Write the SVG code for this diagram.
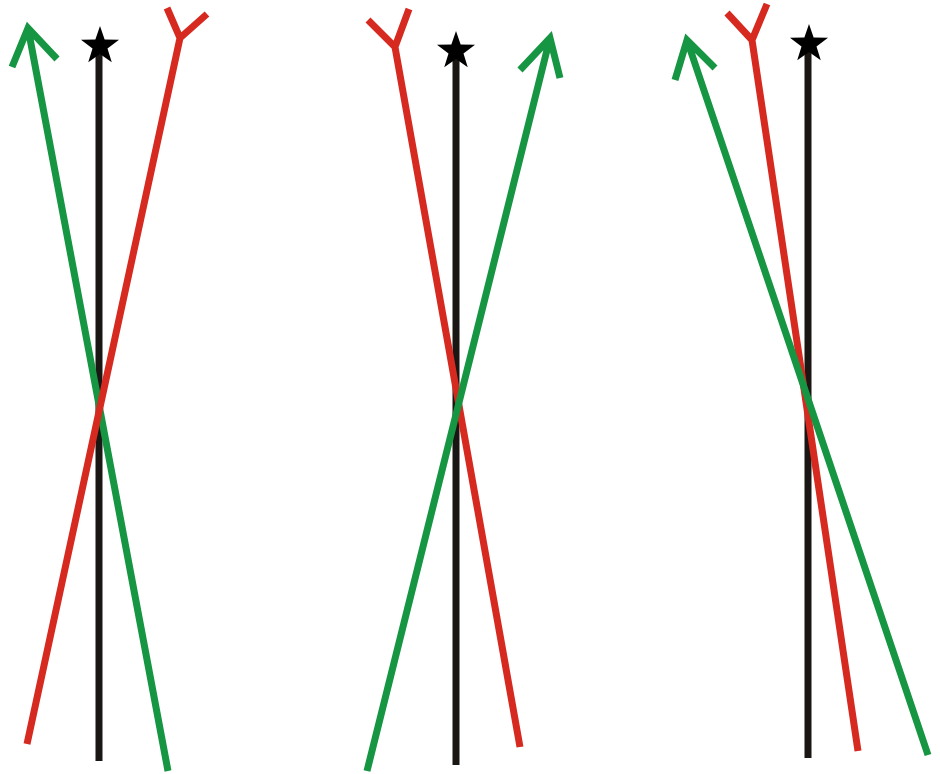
<svg xmlns="http://www.w3.org/2000/svg" width="940" height="774" viewBox="0 0 940 774">
<style>
.k{stroke:#1a1614;stroke-width:7;fill:none;stroke-linecap:butt}
.r{stroke:#d62a20;stroke-width:7;fill:none;stroke-linecap:butt;stroke-linejoin:miter}
.g{stroke:#169542;stroke-width:7;fill:none;stroke-linecap:butt;stroke-linejoin:miter}
</style>
<defs>
<path id="star" d="M0,-20 L4.64,-6.39 L19.02,-6.18 L7.5,2.44 L11.76,16.18 L0,7.9 L-11.76,16.18 L-7.5,2.44 L-19.02,-6.18 L-4.64,-6.39 Z" fill="#000"/>
</defs>
<rect width="940" height="774" fill="#fff"/>
<g id="panel1">
<line class="k" x1="99" y1="50" x2="99" y2="761"/>
<use href="#star" x="100" y="46"/>
<path class="g" d="M168,771 L28,28 M12,67 L28,28 L57,59"/>
<path class="r" d="M27,744 L180,38 M167,8 L180,38 L207,14"/>
</g>
<g id="panel2">
<line class="k" x1="456" y1="55" x2="456" y2="765"/>
<use href="#star" x="456" y="51"/>
<path class="r" d="M520,747 L395,47 M368,20 L395,47 L409,9"/>
<path class="g" d="M367,771 L550,38 M520,70 L550,38 L560,78"/>
</g>
<g id="panel3">
<line class="k" x1="808" y1="48" x2="808" y2="758"/>
<use href="#star" x="809" y="44"/>
<path class="r" d="M858,751 L752,40 M727,13 L752,40 L767,4"/>
<path class="g" d="M928,755 L687,40 M675,80 L687,40 L715,68"/>
</g>
</svg>
